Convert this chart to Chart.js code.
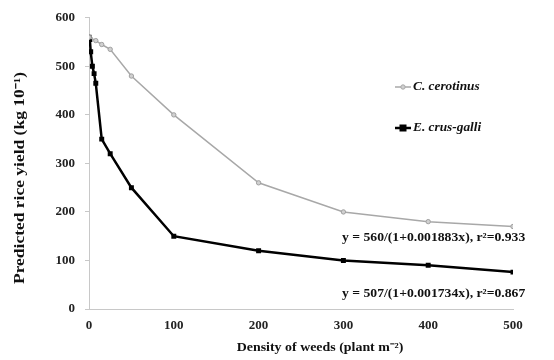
<!DOCTYPE html>
<html>
<head>
<meta charset="utf-8">
<script src="https://cdn.jsdelivr.net/npm/chart.js@4/dist/chart.umd.min.js"></script>
<style>
  html, body { margin: 0; padding: 0; background: #fff; }
  #wrap { width: 554px; height: 360px; position: relative; }
</style>
</head>
<body>
<div id="wrap"><canvas id="myChart" width="554" height="360"></canvas></div>
<script>
// weed densities (plant m-2) and predicted yields
const cerotinusX = [0, 8, 15, 25, 50, 100, 200, 300, 400, 500];
const cerotinusY = [560, 553, 545, 535, 480, 400, 260, 200, 180, 170];
const crusGalliX = [0, 1, 2, 4, 6, 8, 15, 25, 50, 100, 200, 300, 400, 500];
const crusGalliY = [560, 555, 530, 500, 485, 465, 350, 320, 250, 150, 120, 100, 90, 76];
const seriesNames = ['C. cerotinus', 'E. crus-galli'];
const equations = ['y = 560/(1+0.001883x), r\u00B2=0.933', 'y = 507/(1+0.001734x), r\u00B2=0.867'];
const xTitle = 'Density of weeds (plant m\u207B\u00B2)';
const yTitle = 'Predicted rice yield (kg 10\u207B\u00B9)';
const xTicks = [0, 100, 200, 300, 400, 500];
const yTicks = [0, 100, 200, 300, 400, 500, 600];

const serif = '"Liberation Serif", "Times New Roman", serif';
const stretch = 1.16; // the source figure's lettering is a bit wide

function pairs(xs, ys) {
    return xs.map(function (x, i) { return { x: x, y: ys[i] }; });
}

function wideText(ctx, text, x, y, sx, align) {
    ctx.save();
    ctx.translate(x, y);
    ctx.scale(sx, 1);
    ctx.textAlign = align;
    ctx.fillText(text, 0, 0);
    ctx.restore();
}

// legend, fitted equations and axis titles
const notes = {
    id: 'notes',
    afterDraw: function (chart) {
        const ctx = chart.ctx;
        ctx.save();
        ctx.textBaseline = 'middle';

        const items = [
            { y: 87, color: '#a8a8a8', lw: 1.5, style: 'circle' },
            { y: 128, color: '#000', lw: 2.5, style: 'rect' }
        ];
        items.forEach(function (it, i) {
            ctx.strokeStyle = it.color;
            ctx.lineWidth = it.lw;
            ctx.beginPath();
            ctx.moveTo(395, it.y);
            ctx.lineTo(411, it.y);
            ctx.stroke();
            if (it.style === 'rect') {
                ctx.fillStyle = '#000';
                ctx.fillRect(399.5, it.y - 3.5, 7, 7);
            } else {
                ctx.fillStyle = '#d0d0d0';
                ctx.lineWidth = 1;
                ctx.beginPath();
                ctx.arc(403, it.y, 2.2, 0, Math.PI * 2);
                ctx.fill();
                ctx.stroke();
            }
            ctx.fillStyle = '#111';
            ctx.font = 'italic bold 11.5px ' + serif;
            wideText(ctx, seriesNames[i], 413, it.y, stretch, 'left');
        });

        ctx.fillStyle = '#111';
        ctx.font = 'bold 12px ' + serif;
        wideText(ctx, equations[0], 342, 238, 1.14, 'left');
        wideText(ctx, equations[1], 342, 294, 1.14, 'left');

        // x title
        ctx.font = 'bold 12px ' + serif;
        wideText(ctx, xTitle, 320, 348, stretch, 'center');

        // y title, rotated
        ctx.font = 'bold 14px ' + serif;
        const w = ctx.measureText(yTitle).width;
        ctx.save();
        ctx.translate(20, 178);
        ctx.rotate(-Math.PI / 2);
        ctx.scale(212 / w, 1);
        ctx.textAlign = 'center';
        ctx.fillText(yTitle, 0, 0);
        ctx.restore();

        ctx.restore();
    }
};

document.addEventListener('DOMContentLoaded', function () {
    const chartCanvas = document.getElementById('myChart');

    new Chart(chartCanvas, {
        type: 'scatter',
        data: {
            datasets: [{
                label: seriesNames[0],
                data: pairs(cerotinusX, cerotinusY),
                showLine: true,
                borderColor: '#a8a8a8',
                borderWidth: 1.5,
                pointStyle: 'circle',
                pointRadius: 2.2,
                pointBackgroundColor: '#d0d0d0',
                pointBorderColor: '#a0a0a0',
                pointBorderWidth: 1,
                tension: 0
            }, {
                label: seriesNames[1],
                data: pairs(crusGalliX, crusGalliY),
                showLine: true,
                borderColor: '#000',
                borderWidth: 2.5,
                pointStyle: 'rect',
                pointRadius: 3.5,
                pointBackgroundColor: '#000',
                pointBorderColor: '#000',
                pointBorderWidth: 0,
                tension: 0
            }]
        },
        options: {
            responsive: false,
            animation: false,
            layout: { padding: { left: 0, right: 41, top: 17, bottom: 0 } },
            plugins: {
                legend: { display: false },
                tooltip: { enabled: false }
            },
            scales: {
                x: {
                    type: 'linear',
                    min: 0,
                    max: 500,
                    afterBuildTicks: function (s) { s.ticks = xTicks.map(function (v) { return { value: v }; }); },
                    afterFit: function (s) { s.height = 51; },
                    grid: { drawOnChartArea: false, drawTicks: false, color: '#c8c8c8' },
                    border: { color: '#c8c8c8', width: 1 },
                    ticks: {
                        color: '#222',
                        padding: 9,
                        font: { family: serif, size: 13, weight: 'bold' }
                    }
                },
                y: {
                    min: 0,
                    max: 600,
                    afterBuildTicks: function (s) { s.ticks = yTicks.map(function (v) { return { value: v }; }); },
                    afterFit: function (s) { s.width = 89; },
                    grid: { drawOnChartArea: false, tickLength: 4, color: '#c8c8c8' },
                    border: { color: '#c8c8c8', width: 1 },
                    ticks: {
                        color: '#222',
                        padding: 10,
                        font: { family: serif, size: 13, weight: 'bold' }
                    }
                }
            }
        },
        plugins: [notes]
    });
});
</script>
</body>
</html>
